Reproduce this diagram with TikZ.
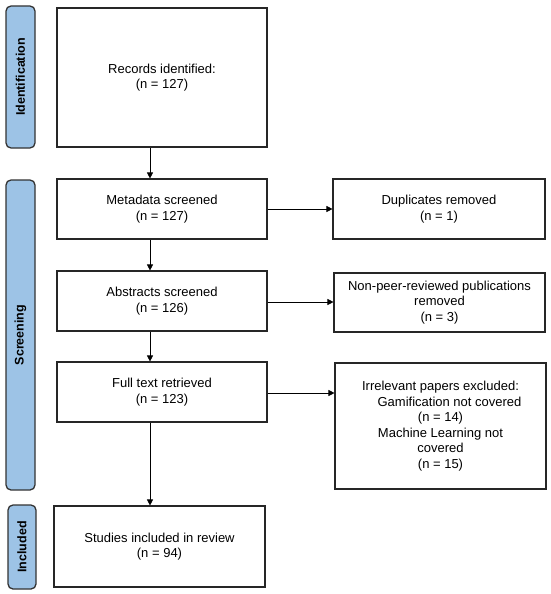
\documentclass[tikz,border=0pt]{standalone}
\usepackage{fontspec}
\setmainfont{Liberation Sans}
\usetikzlibrary{arrows.meta}
\begin{document}
\begin{tikzpicture}[x=1pt,y=-1pt,
  box/.style={draw=black!85,line width=1.1pt,fill=white,align=center,font=\fontsize{13}{15.5}\selectfont,inner sep=0pt},
  bar/.style={draw=black!80,line width=1.3pt,fill=barblue,rounded corners=5pt},
  barlabel/.style={rotate=90,font=\bfseries\fontsize{12.5}{14}\selectfont},
  arr/.style={-{Triangle[length=6pt,width=6pt]},line width=0.6pt}]
\definecolor{barblue}{HTML}{9DC3E6}
\useasboundingbox (0,0) rectangle (550,594);
% side bars
\draw[bar] (6,6) rectangle (35,148);
\node[barlabel] (lid) at (20.5,77) {Identification};
\draw[bar] (6,180) rectangle (35,490);
\node[barlabel] (lsc) at (20.5,335) {Screening};
\draw[bar] (8,505) rectangle (36,589);
\node[barlabel] (lin) at (22,547) {Included};
% main boxes
\node[box,minimum width=210pt,minimum height=139pt] (rec) at (162,77.5) {Records identified:\\(n = 127)};
\node[box,minimum width=210pt,minimum height=60pt] (meta) at (162,209) {Metadata screened\\(n = 127)};
\node[box,minimum width=210pt,minimum height=60pt] (abs) at (162,301) {Abstracts screened\\(n = 126)};
\node[box,minimum width=210pt,minimum height=60pt] (full) at (162,392) {Full text retrieved\\(n = 123)};
\node[box,minimum width=211pt,minimum height=81pt] (stud) at (159.5,546.5) {Studies included in review\\(n = 94)};
% right boxes
\node[box,minimum width=212pt,minimum height=60pt] (dup) at (439,209) {Duplicates removed\\(n = 1)};
\node[box,minimum width=211pt,minimum height=59pt] (npr) at (439.5,302.5) {Non-peer-reviewed publications\\removed\\(n = 3)};
\node[box,minimum width=211pt,minimum height=126pt] (irr) at (440.5,426) {Irrelevant papers excluded:\\\hspace*{18pt}Gamification not covered\\(n = 14)\\Machine Learning not\\covered\\(n = 15)};
% arrows
\draw[arr] (rec.south -| 150,0) -- (meta.north -| 150,0);
\draw[arr] (meta.south -| 150,0) -- (abs.north -| 150,0);
\draw[arr] (abs.south -| 150,0) -- (full.north -| 150,0);
\draw[arr] (full.south -| 150,0) -- (stud.north -| 150,0);
\draw[arr] (meta.east) -- (dup.west |- meta.east);
\draw[arr] (abs.east |- 0,302) -- (npr.west |- 0,302);
\draw[arr] (full.east |- 0,393) -- (irr.west |- 0,393);
\end{tikzpicture}
\end{document}
